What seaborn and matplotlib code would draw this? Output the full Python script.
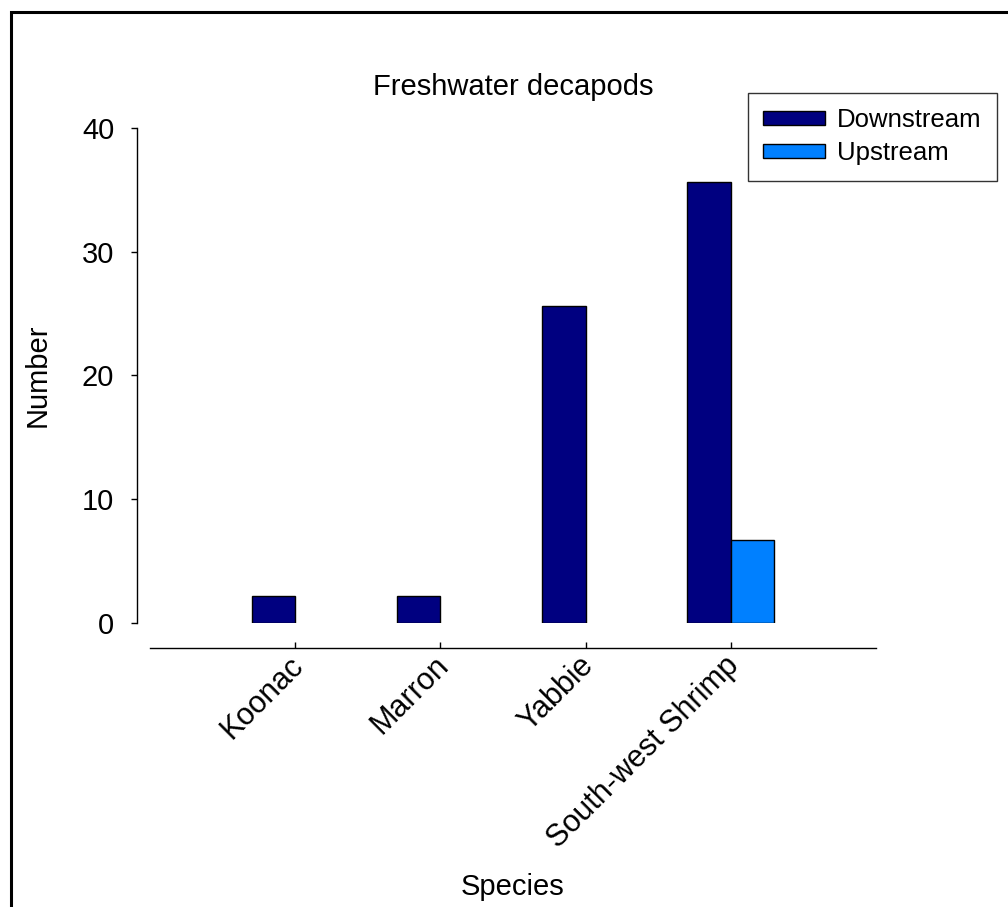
import matplotlib
matplotlib.use("Agg")
import matplotlib.pyplot as plt
import matplotlib.transforms as mtransforms
from matplotlib.patches import Rectangle
import seaborn as sns
import pandas as pd

species = ['Koonac', 'Marron', 'Yabbie', 'South-west Shrimp']
downstream = [2.2, 2.2, 25.6, 35.6]
upstream = [0, 0, 0, 6.7]
sites = ['Downstream', 'Upstream']
site_colors = ['#000080', '#0080FF']

rows = []
for i in range(len(species)):
    if downstream[i] > 0:
        rows.append({'Species': species[i], 'Site': 'Downstream', 'Number': downstream[i]})
    if upstream[i] > 0:
        rows.append({'Species': species[i], 'Site': 'Upstream', 'Number': upstream[i]})
df = pd.DataFrame(rows)

sns.set_style("ticks")
plt.rcParams['font.family'] = ['Liberation Sans', 'DejaVu Sans']
plt.rcParams['text.color'] = 'black'
plt.rcParams['axes.labelcolor'] = 'black'
plt.rcParams['xtick.color'] = 'black'
plt.rcParams['ytick.color'] = 'black'

fig = plt.figure(figsize=(10.08, 9.07), dpi=100)
ax = fig.add_axes([0.1488, 0.3131, 0.7202, 0.5458])

sns.barplot(data=df, x='Species', y='Number', hue='Site', order=species, hue_order=sites,
            palette=site_colors, saturation=1, width=0.6, gap=0, errorbar=None,
            edgecolor='black', linewidth=1, ax=ax, legend=False)

ax.set_xlim(-1, 4)
ax.set_ylim(0, 40)
ax.set_yticks([0, 10, 20, 30, 40])

for s in ['top', 'right']:
    ax.spines[s].set_visible(False)
ax.spines['left'].set_position(('outward', 9.4))
ax.spines['bottom'].set_position(('outward', 18))
ax.spines['left'].set_bounds(0, 40)
for s in ['left', 'bottom']:
    ax.spines[s].set_linewidth(1)
    ax.spines[s].set_color('black')

ax.tick_params(axis='y', direction='out', length=4.3, width=1, pad=12, labelsize=21)
ax.tick_params(axis='x', direction='in', length=4.3, width=1, pad=2, labelsize=22)
shift = mtransforms.ScaledTranslation(-0.07, 0, fig.dpi_scale_trans)
for lab in ax.get_xticklabels():
    lab.set_rotation(45)
    lab.set_ha('right')
    lab.set_rotation_mode('anchor')
    lab.set_transform(lab.get_transform() + shift)

ax.set_xlabel('Species', fontsize=21)
ax.set_ylabel('Number', fontsize=21)
ax.xaxis.set_label_coords(0.5, -0.505)
ax.yaxis.set_label_coords(-0.135, 0.5)
ax.set_title('Freshwater decapods', fontsize=21, pad=24)

handles = [Rectangle((0, 0), 1, 1, facecolor=c, edgecolor='black', linewidth=1) for c in site_colors]
leg = fig.legend(handles, sites, loc='upper left', bbox_to_anchor=(0.742, 0.8975),
                 bbox_transform=fig.transFigure, fontsize=18.5, handlelength=2.4,
                 handleheight=0.45, fancybox=False, frameon=True, borderpad=0.6,
                 labelspacing=0.35, handletextpad=0.45, borderaxespad=0)
leg.get_frame().set_edgecolor('black')
leg.get_frame().set_linewidth(1)

fig.add_artist(Rectangle((11 / 1008, -0.5), 2, 0.5 + 1 - 12 / 907, transform=fig.transFigure,
                         fill=False, edgecolor='black', linewidth=2.2, clip_on=False))

fig.savefig('out.png', dpi=100)
